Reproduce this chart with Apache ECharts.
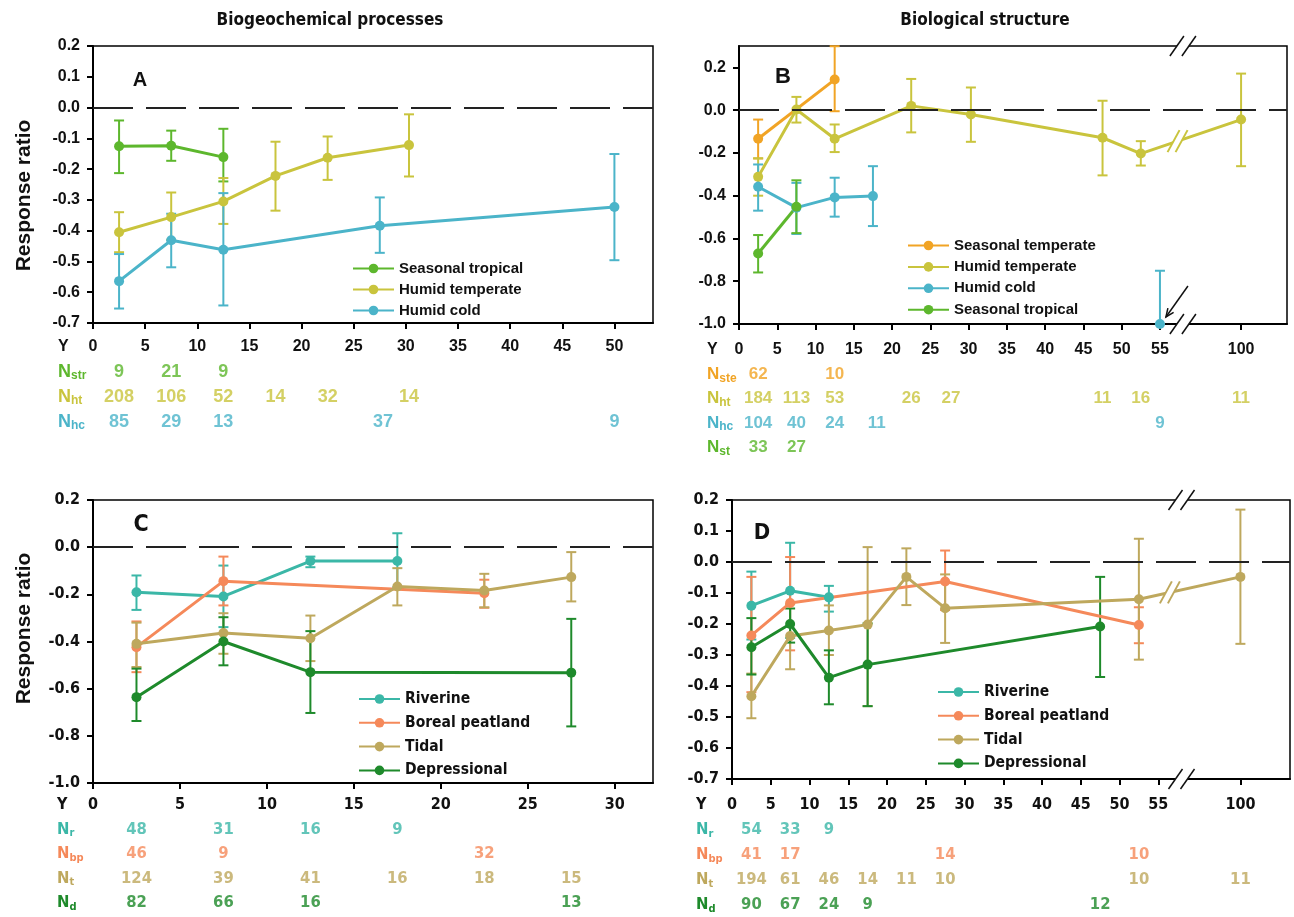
<!DOCTYPE html>
<html><head><meta charset="utf-8">
<script src="https://cdn.jsdelivr.net/npm/echarts@6/dist/echarts.min.js"></script>
<style>html,body{margin:0;padding:0;background:#fff}#c{width:1294px;height:917px}</style>
</head><body><div id="c"></div>
<script>
// ---------- Panel A : Biogeochemical processes by climate ----------
const aStrX = [2.5, 7.5, 12.5];
const aStrY = [-0.126, -0.124, -0.161];
const aStrLo = [-0.213, -0.173, -0.24];
const aStrHi = [-0.042, -0.075, -0.069];
const aHtX = [2.5, 7.5, 12.5, 17.5, 22.5, 30.3];
const aHtY = [-0.405, -0.356, -0.305, -0.222, -0.163, -0.122];
const aHtLo = [-0.47, -0.43, -0.378, -0.335, -0.235, -0.224];
const aHtHi = [-0.34, -0.276, -0.229, -0.111, -0.094, -0.022];
const aHcX = [2.5, 7.5, 12.5, 27.5, 50];
const aHcY = [-0.564, -0.431, -0.462, -0.384, -0.323];
const aHcLo = [-0.653, -0.519, -0.643, -0.472, -0.496];
const aHcHi = [-0.476, -0.345, -0.278, -0.292, -0.151];
const aNstrX = [2.5, 7.5, 12.5], aNstr = [9, 21, 9];
const aNhtX = [2.5, 7.5, 12.5, 17.5, 22.5, 30.3], aNht = [208, 106, 52, 14, 32, 14];
const aNhcX = [2.5, 7.5, 12.5, 27.8, 50], aNhc = [85, 29, 13, 37, 9];
const A_X_TICKS = [0, 5, 10, 15, 20, 25, 30, 35, 40, 45, 50];
const A_Y_TICKS = [-0.7, -0.6, -0.5, -0.4, -0.3, -0.2, -0.1, 0.0, 0.1, 0.2];

// ---------- Panel B : Biological structure by climate ----------
const bSteX = [2.5, 12.5], bSteY = [-0.134, 0.143], bSteLo = [-0.226, -0.005], bSteHi = [-0.044, 0.299];
const bHtX = [2.5, 7.5, 12.5, 22.5, 30.3, 47.5, 52.5, 100];
const bHtY = [-0.312, 0.003, -0.134, 0.02, -0.02, -0.129, -0.203, -0.044];
const bHtLo = [-0.40, -0.058, -0.196, -0.104, -0.148, -0.305, -0.259, -0.262];
const bHtHi = [-0.225, 0.062, -0.067, 0.146, 0.106, 0.044, -0.145, 0.171];
const bHcX = [2.5, 7.5, 12.5, 17.5, 55];
const bHcY = [-0.358, -0.456, -0.408, -0.402, -1.0];
const bHcLo = [-0.47, -0.579, -0.498, -0.542, -1.0];
const bHcHi = [-0.254, -0.34, -0.316, -0.262, -0.751];
const bHcGapBefore = [4];           // isolated point at 55 (not joined)
const bStX = [2.5, 7.5], bStY = [-0.67, -0.452], bStLo = [-0.759, -0.575], bStHi = [-0.584, -0.328];
const bNsteX = [2.5, 12.5], bNste = [62, 10];
const bNhtX = [2.5, 7.5, 12.5, 22.5, 27.7, 47.5, 52.5, 100], bNht = [184, 113, 53, 26, 27, 11, 16, 11];
const bNhcX = [2.5, 7.5, 12.5, 18, 55], bNhc = [104, 40, 24, 11, 9];
const bNstX = [2.5, 7.5], bNst = [33, 27];
const B_X_TICKS = [0, 5, 10, 15, 20, 25, 30, 35, 40, 45, 50, 55, 100];
const B_Y_TICKS = [-1.0, -0.8, -0.6, -0.4, -0.2, 0.0, 0.2];

// ---------- Panel C : Biogeochemical processes by wetland type ----------
const cRX = [2.5, 7.5, 12.5, 17.5], cRY = [-0.191, -0.209, -0.059, -0.059];
const cRLo = [-0.266, -0.339, -0.085, -0.17], cRHi = [-0.12, -0.078, -0.04, 0.059];
const cBpX = [2.5, 7.5, 22.5], cBpY = [-0.424, -0.144, -0.195];
const cBpLo = [-0.53, -0.247, -0.257], cBpHi = [-0.315, -0.04, -0.138];
const cTX = [2.5, 7.5, 12.5, 17.5, 22.5, 27.5], cTY = [-0.41, -0.364, -0.386, -0.167, -0.184, -0.127];
const cTLo = [-0.508, -0.452, -0.483, -0.247, -0.255, -0.23], cTHi = [-0.32, -0.28, -0.29, -0.089, -0.113, -0.021];
const cDX = [2.5, 7.5, 12.5, 27.5], cDY = [-0.636, -0.40, -0.53, -0.532];
const cDLo = [-0.737, -0.501, -0.703, -0.76], cDHi = [-0.515, -0.297, -0.356, -0.304];
const cNrX = [2.5, 7.5, 12.5, 17.5], cNr = [48, 31, 16, 9];
const cNbpX = [2.5, 7.5, 22.5], cNbp = [46, 9, 32];
const cNtX = [2.5, 7.5, 12.5, 17.5, 22.5, 27.5], cNt = [124, 39, 41, 16, 18, 15];
const cNdX = [2.5, 7.5, 12.5, 27.5], cNd = [82, 66, 16, 13];
const C_X_TICKS = [0, 5, 10, 15, 20, 25, 30];
const C_Y_TICKS = [-1.0, -0.8, -0.6, -0.4, -0.2, 0.0, 0.2];

// ---------- Panel D : Biological structure by wetland type ----------
const dRX = [2.5, 7.5, 12.5], dRY = [-0.141, -0.093, -0.114];
const dRLo = [-0.25, -0.245, -0.16], dRHi = [-0.031, 0.062, -0.077];
const dBpX = [2.5, 7.5, 27.5, 52.5], dBpY = [-0.237, -0.132, -0.063, -0.203];
const dBpLo = [-0.42, -0.285, -0.155, -0.262], dBpHi = [-0.048, 0.016, 0.037, -0.146];
const dTX = [2.5, 7.5, 12.5, 17.5, 22.5, 27.5, 52.5, 100];
const dTY = [-0.433, -0.239, -0.221, -0.202, -0.048, -0.149, -0.12, -0.048];
const dTLo = [-0.504, -0.346, -0.30, -0.465, -0.139, -0.261, -0.315, -0.264];
const dTHi = [-0.36, -0.136, -0.14, 0.048, 0.044, -0.04, 0.075, 0.169];
const dDX = [2.5, 7.5, 12.5, 17.5, 47.5], dDY = [-0.275, -0.2, -0.373, -0.331, -0.208];
const dDLo = [-0.363, -0.26, -0.459, -0.465, -0.371], dDHi = [-0.181, -0.15, -0.285, -0.198, -0.048];
const dNrX = [2.5, 7.5, 12.5], dNr = [54, 33, 9];
const dNbpX = [2.5, 7.5, 27.5, 52.5], dNbp = [41, 17, 14, 10];
const dNtX = [2.5, 7.5, 12.5, 17.5, 22.5, 27.5, 52.5, 100], dNt = [194, 61, 46, 14, 11, 10, 10, 11];
const dNdX = [2.5, 7.5, 12.5, 17.5, 47.5], dNd = [90, 67, 24, 9, 12];
const D_X_TICKS = [0, 5, 10, 15, 20, 25, 30, 35, 40, 45, 50, 55, 100];
const D_Y_TICKS = [-0.7, -0.6, -0.5, -0.4, -0.3, -0.2, -0.1, 0.0, 0.1, 0.2];

// ---------- styling ----------
const C_STR = '#5db72d', C_HT = '#c9c43d', C_HC = '#4bb4c9', C_STE = '#f1a425';
const C_RIV = '#3bb7a7', C_BP = '#f5895a', C_TID = '#bea85d', C_DEP = '#1e8a2b';
const F = '"Liberation Sans", Arial, Helvetica, sans-serif';
const FN = '"Liberation Sans Narrow", "Arial Narrow", "DejaVu Sans Condensed", sans-serif';
// broken x-axis (55 | 100)
const K = 10.6 / 45;
const brk = x => (x > 56 ? 55 + (x - 55) * K : x);
const unbrk = v => (v > 56 ? Math.round(55 + (v - 55) / K) : v);

const panels = [
  { g: [93, 46, 560, 277], xmax: 53.7, xTicks: A_X_TICKS, yMin: -0.7, yMax: 0.2, yTicks: A_Y_TICKS,
    font: F, tick: 16, nSize: 18, yName: 'Response ratio', yNamePad: [0, 22, 0, 0], broken: false, nOff: 24, rowH: 25, nMargin: 35,
    letter: ['A', 140, 80, 20], legend: { left: 352, top: 261, gap: 6, size: 15, font: F },
    lines: [
      { name: 'Seasonal tropical', color: C_STR, x: aStrX, y: aStrY, lo: aStrLo, hi: aStrHi },
      { name: 'Humid temperate', color: C_HT, x: aHtX, y: aHtY, lo: aHtLo, hi: aHtHi },
      { name: 'Humid cold', color: C_HC, x: aHcX, y: aHcY, lo: aHcLo, hi: aHcHi }],
    rows: [{ sub: 'str', color: C_STR, x: aNstrX, v: aNstr }, { sub: 'ht', color: C_HT, x: aNhtX, v: aNht },
      { sub: 'hc', color: C_HC, x: aNhcX, v: aNhc }] },
  { g: [739, 46, 548, 278], xmax: 71.6, xTicks: B_X_TICKS, yMin: -1.0, yMax: 0.3, yTicks: B_Y_TICKS,
    font: F, tick: 16, nSize: 17, yName: '', broken: true, brkAt: 58, nOff: 26, rowH: 24.3, nMargin: 32,
    letter: ['B', 783, 77, 22], legend: { left: 907, top: 238, gap: 6.4, size: 15, font: F },
    lines: [
      { name: 'Seasonal temperate', color: C_STE, x: bSteX, y: bSteY, lo: bSteLo, hi: bSteHi },
      { name: 'Humid temperate', color: C_HT, x: bHtX, y: bHtY, lo: bHtLo, hi: bHtHi, lineMark: 57.3 },
      { name: 'Humid cold', color: C_HC, x: bHcX, y: bHcY, lo: bHcLo, hi: bHcHi, gaps: bHcGapBefore, arrow: 4 },
      { name: 'Seasonal tropical', color: C_STR, x: bStX, y: bStY, lo: bStLo, hi: bStHi }],
    rows: [{ sub: 'ste', color: C_STE, x: bNsteX, v: bNste }, { sub: 'ht', color: C_HT, x: bNhtX, v: bNht },
      { sub: 'hc', color: C_HC, x: bNhcX, v: bNhc }, { sub: 'st', color: C_STR, x: bNstX, v: bNst }] },
  { g: [93, 500, 560, 283], xmax: 32.2, xTicks: C_X_TICKS, yMin: -1.0, yMax: 0.2, yTicks: C_Y_TICKS,
    font: FN, tick: 16, nSize: 16.5, yName: 'Response ratio', yNamePad: [0, 0, 0, 26], broken: false, nOff: 22, rowH: 24.5, nMargin: 36,
    letter: ['C', 141, 525, 23], legend: { left: 358, top: 691, gap: 7.8, size: 15.5, font: FN },
    lines: [
      { name: 'Riverine', color: C_RIV, x: cRX, y: cRY, lo: cRLo, hi: cRHi },
      { name: 'Boreal peatland', color: C_BP, x: cBpX, y: cBpY, lo: cBpLo, hi: cBpHi },
      { name: 'Tidal', color: C_TID, x: cTX, y: cTY, lo: cTLo, hi: cTHi },
      { name: 'Depressional', color: C_DEP, x: cDX, y: cDY, lo: cDLo, hi: cDHi }],
    rows: [{ sub: 'r', color: C_RIV, x: cNrX, v: cNr }, { sub: 'bp', color: C_BP, x: cNbpX, v: cNbp },
      { sub: 't', color: C_TID, x: cNtX, v: cNt }, { sub: 'd', color: C_DEP, x: cNdX, v: cNd }] },
  { g: [732, 500, 558, 279], xmax: 72.0, xTicks: D_X_TICKS, yMin: -0.7, yMax: 0.2, yTicks: D_Y_TICKS,
    font: FN, tick: 16, nSize: 16.5, yName: '', broken: true, brkAt: 58, nOff: 26, rowH: 25, nMargin: 36,
    letter: ['D', 762, 533, 22], legend: { left: 937, top: 684, gap: 7.8, size: 15.5, font: FN },
    lines: [
      { name: 'Riverine', color: C_RIV, x: dRX, y: dRY, lo: dRLo, hi: dRHi },
      { name: 'Boreal peatland', color: C_BP, x: dBpX, y: dBpY, lo: dBpLo, hi: dBpHi },
      { name: 'Tidal', color: C_TID, x: dTX, y: dTY, lo: dTLo, hi: dTHi, lineMark: 56.5 },
      { name: 'Depressional', color: C_DEP, x: dDX, y: dDY, lo: dDLo, hi: dDHi }],
    rows: [{ sub: 'r', color: C_RIV, x: dNrX, v: dNr }, { sub: 'bp', color: C_BP, x: dNbpX, v: dNbp },
      { sub: 't', color: C_TID, x: dNtX, v: dNt }, { sub: 'd', color: C_DEP, x: dNdX, v: dNd }] }
];

function slashPair(c, color, gap, h, dx, lw) {
  const x = c[0], y = c[1];
  return [
    { type: 'polygon', shape: { points: [[x - gap - dx, y + h], [x - gap + dx, y - h], [x + gap + dx, y - h], [x + gap - dx, y + h]] }, style: { fill: '#fff' } },
    { type: 'line', shape: { x1: x - gap - dx, y1: y + h, x2: x - gap + dx, y2: y - h }, style: { stroke: color, lineWidth: lw } },
    { type: 'line', shape: { x1: x + gap - dx, y1: y + h, x2: x + gap + dx, y2: y - h }, style: { stroke: color, lineWidth: lw } }
  ];
}

const option = { animation: false, backgroundColor: '#fff', grid: [], xAxis: [], yAxis: [], series: [], legend: [], graphic: [] };

option.graphic.push({ type: 'text', x: 330, y: 21, style: { text: 'Biogeochemical processes', font: 'bold 17px ' + FN, fill: '#111', align: 'center', verticalAlign: 'middle' } });
option.graphic.push({ type: 'text', x: 985, y: 21, style: { text: 'Biological structure', font: 'bold 17px ' + FN, fill: '#111', align: 'center', verticalAlign: 'middle' } });

panels.forEach(P => {
  const mapX = P.broken ? brk : (x => x);
  const gi = option.grid.length;
  const [L, T, W, H] = P.g;
  option.grid.push({ left: L, top: T, width: W, height: H, show: true, borderColor: '#000', borderWidth: 1.5, outerBoundsMode: 'none' });
  const xTicks = P.xTicks.map(mapX);
  option.xAxis.push({ gridIndex: gi, type: 'value', min: 0, max: P.xmax, position: 'bottom',
    axisLine: { show: true, onZero: false, lineStyle: { color: '#000', width: 2 } },
    axisTick: { show: true, length: 6, customValues: xTicks, lineStyle: { color: '#000', width: 2 } },
    axisLabel: { show: true, customValues: xTicks, margin: P.nOff - P.tick / 2, formatter: v => String(unbrk(v)),
      fontSize: P.tick, fontWeight: 'bold', fontFamily: P.font, color: '#111' },
    splitLine: { show: false } });
  option.yAxis.push({ gridIndex: gi, type: 'value', min: P.yMin, max: P.yMax,
    name: P.yName, nameLocation: 'middle', nameGap: 58,
    nameTextStyle: { fontSize: 21, fontWeight: 'bold', fontFamily: F, color: '#111', padding: P.yNamePad || 0 },
    axisLine: { show: true, onZero: false, lineStyle: { color: '#000', width: 2 } },
    axisTick: { show: true, length: 6, customValues: P.yTicks, lineStyle: { color: '#000', width: 2 } },
    axisLabel: { show: true, customValues: P.yTicks, margin: 13, formatter: v => v.toFixed(1),
      fontSize: P.tick, fontWeight: 'bold', fontFamily: P.font, color: '#111' },
    splitLine: { show: false } });

  P.lines.forEach((s, si) => {
    // error bars
    option.series.push({ type: 'custom', name: s.name + ' SE', xAxisIndex: gi, yAxisIndex: gi, silent: true,
      data: s.x.map((x, i) => [mapX(x), s.lo[i], s.hi[i]]), encode: { x: 0, y: [1, 2] },
      renderItem: (params, api) => {
        const x = api.value(0);
        const a = api.coord([x, api.value(1)]), b = api.coord([x, api.value(2)]);
        const w = 5, st = { stroke: s.color, lineWidth: 2 };
        return { type: 'group', children: [
          { type: 'line', shape: { x1: a[0], y1: a[1], x2: b[0], y2: b[1] }, style: st },
          { type: 'line', shape: { x1: a[0] - w, y1: a[1], x2: a[0] + w, y2: a[1] }, style: st },
          { type: 'line', shape: { x1: b[0] - w, y1: b[1], x2: b[0] + w, y2: b[1] }, style: st }] };
      } });
    const data = [];
    s.x.forEach((x, i) => {
      if (s.gaps && s.gaps.indexOf(i) >= 0) data.push(['-', '-']);
      data.push([mapX(x), s.y[i]]);
    });
    const ser = { type: 'line', name: s.name, xAxisIndex: gi, yAxisIndex: gi, data: data, connectNulls: false,
      symbol: 'circle', symbolSize: 10, showSymbol: true, silent: true,
      lineStyle: { color: s.color, width: 3 }, itemStyle: { color: s.color } };
    if (si === 0) {
      ser.markLine = { silent: true, symbol: ['none', 'none'], label: { show: false },
        lineStyle: { color: '#222', width: 1.8, type: [40, 13] }, data: [{ yAxis: 0 }] };
    }
    option.series.push(ser);
    if (s.lineMark) {
      // break mark on the line between the last two points
      const n = s.x.length, x0 = mapX(s.x[n - 2]), x1 = mapX(s.x[n - 1]);
      const yv = s.y[n - 2] + (s.lineMark - x0) / (x1 - x0) * (s.y[n - 1] - s.y[n - 2]);
      option.series.push({ type: 'custom', xAxisIndex: gi, yAxisIndex: gi, silent: true, z: 6,
        data: [[s.lineMark, yv]], encode: { x: 0, y: 1 },
        renderItem: (params, api) => ({ type: 'group',
          children: slashPair(api.coord([api.value(0), api.value(1)]), s.color, 4, 11, 6, 2) }) });
    }
    if (s.arrow !== undefined) {
      const ax = mapX(s.x[s.arrow]), ay = s.y[s.arrow];
      option.series.push({ type: 'custom', xAxisIndex: gi, yAxisIndex: gi, silent: true, z: 6,
        data: [[ax, ay]], encode: { x: 0, y: 1 },
        renderItem: (params, api) => {
          const c = api.coord([api.value(0), api.value(1)]);
          const tip = [c[0] + 6, c[1] - 7], tail = [c[0] + 28, c[1] - 38];
          const ang = Math.atan2(tip[1] - tail[1], tip[0] - tail[0]);
          const hl = 9, hw = 0.4;
          const p1 = [tip[0] - hl * Math.cos(ang - hw), tip[1] - hl * Math.sin(ang - hw)];
          const p2 = [tip[0] - hl * Math.cos(ang + hw), tip[1] - hl * Math.sin(ang + hw)];
          return { type: 'group', children: [
            { type: 'line', shape: { x1: tail[0], y1: tail[1], x2: tip[0], y2: tip[1] }, style: { stroke: '#111', lineWidth: 1.5 } },
            { type: 'polyline', shape: { points: [p1, tip, p2] }, style: { stroke: '#111', lineWidth: 1.5, fill: null } }] };
        } });
    }
  });

  if (P.broken) {
    option.series.push({ type: 'custom', xAxisIndex: gi, yAxisIndex: gi, silent: true, z: 8,
      data: [[P.brkAt, P.yMin, P.yMax]], encode: { x: 0, y: [1, 2] },
      renderItem: (params, api) => {
        const t = api.coord([api.value(0), api.value(2)]), b = api.coord([api.value(0), api.value(1)]);
        return { type: 'group', children: slashPair(t, '#111', 6, 10, 7, 1.5).concat(slashPair(b, '#111', 6, 10, 7, 1.5)) };
      } });
  }

  // panel letter
  option.graphic.push({ type: 'text', x: P.letter[1], y: P.letter[2],
    style: { text: P.letter[0], font: 'bold ' + P.letter[3] + 'px ' + P.font, fill: '#111', align: 'center', verticalAlign: 'middle' } });

  // legend
  option.legend.push({ orient: 'vertical', left: P.legend.left, top: P.legend.top, padding: 0,
    itemWidth: 41, itemHeight: 12, itemGap: P.legend.gap, selectedMode: false,
    data: P.lines.map(s => s.name),
    textStyle: { fontSize: P.legend.size, fontWeight: 'bold', fontFamily: P.legend.font, color: '#111' } });

  // sample-size table grid under the x axis
  const ni = option.grid.length;
  const nRows = P.rows.length + 1;
  option.grid.push({ left: L, top: T + H + P.nOff - P.rowH / 2, width: W, height: P.rowH * nRows, show: false, outerBoundsMode: 'none' });
  option.xAxis.push({ gridIndex: ni, type: 'value', min: 0, max: P.xmax, show: false });
  const rich = { y: { color: '#111', fontWeight: 'bold', fontSize: P.tick, fontFamily: P.font } };
  P.rows.forEach((r, k) => {
    rich['n' + k] = { color: r.color, fontWeight: 'bold', fontSize: P.nSize, fontFamily: P.font };
    rich['s' + k] = { color: r.color, fontWeight: 'bold', fontSize: Math.round(P.nSize * 0.68), fontFamily: P.font, padding: [8, 0, 0, 0] };
  });
  const cats = ['Y'].concat(P.rows.map((r, k) => 'r' + k));
  option.yAxis.push({ gridIndex: ni, type: 'category', data: cats, inverse: true,
    axisLine: { show: false }, axisTick: { show: false }, splitLine: { show: false },
    axisLabel: { show: true, align: 'left', margin: P.nMargin,
      formatter: v => (v === 'Y' ? '{y|Y}' : '{n' + v.slice(1) + '|N}{s' + v.slice(1) + '|' + P.rows[+v.slice(1)].sub + '}'),
      rich: rich } });
  P.rows.forEach((r, k) => {
    option.series.push({ type: 'scatter', xAxisIndex: ni, yAxisIndex: ni, silent: true, symbolSize: 1,
      itemStyle: { color: 'rgba(0,0,0,0)' },
      data: r.x.map((x, i) => [mapX(x), k + 1, r.v[i]]),
      label: { show: true, position: 'inside', formatter: p => String(p.value[2]),
        color: r.color, fontSize: P.nSize, fontWeight: 'bold', fontFamily: P.font } });
  });
});

const chart = echarts.init(document.getElementById('c'));
chart.setOption(option);
</script></body></html>
